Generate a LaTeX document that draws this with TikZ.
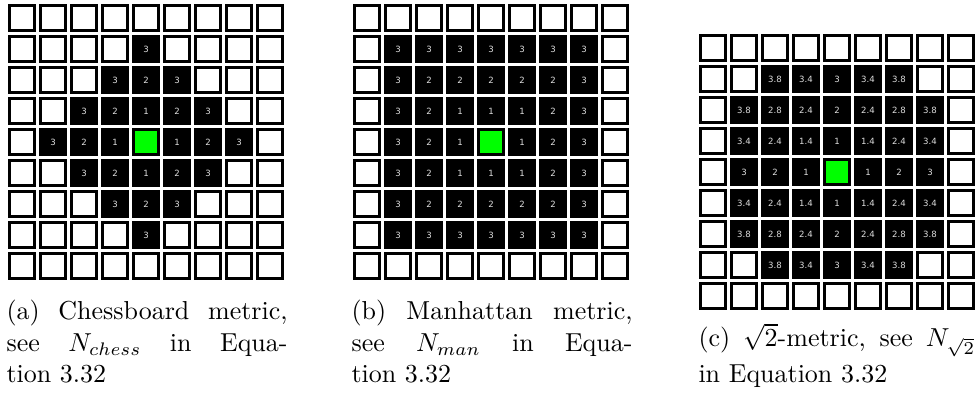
\documentclass[tikz,border=0pt]{standalone}
\usepackage{fontspec}
\newfontfamily\numfont{DejaVu Sans}
\definecolor{cellgreen}{RGB}{0,255,0}
\definecolor{numgray}{RGB}{222,222,222}
\begin{document}
\begin{tikzpicture}[x=0.385pt,y=-0.385pt,
  cell/.style={rectangle, inner sep=0pt, minimum size=9.625pt, line width=1.155pt, draw=black, fill=white},
  hot/.style={cell, fill=black, text=numgray, font=\numfont\fontsize{3.3}{3.7}\selectfont},
  origin/.style={cell, fill=cellgreen},
  captext/.style={anchor=base west, inner sep=0pt, font=\fontsize{10}{12}\selectfont}]
\useasboundingbox (0,0) rectangle (980,394);
\foreach \r in {0,...,8}{
 \foreach \c in {0,...,8}{
   \pgfmathtruncatemacro\dr{abs(\r-4)}
   \pgfmathtruncatemacro\dc{abs(\c-4)}
   \pgfmathtruncatemacro\sm{\dr+\dc}
   \pgfmathtruncatemacro\mx{max(\dr,\dc)}
   \pgfmathtruncatemacro\mn{min(\dr,\dc)}
   \pgfmathtruncatemacro\vt{10*\mx+4*\mn}
   \pgfmathtruncatemacro\ip{\vt/10}
   \pgfmathtruncatemacro\fp{\vt-10*\ip}
   % (a) chessboard
   \ifnum\sm=0 \node[origin] (a-\r-\c) at (22+31*\c, 18+31*\r) {};
   \else\ifnum\sm<4 \node[hot] (a-\r-\c) at (22+31*\c, 18+31*\r) {\sm};
   \else \node[cell] (a-\r-\c) at (22+31*\c, 18+31*\r) {};
   \fi\fi
   % (b) manhattan
   \ifnum\mx=0 \node[origin] (b-\r-\c) at (367+31*\c, 18+31*\r) {};
   \else\ifnum\mx<4 \node[hot] (b-\r-\c) at (367+31*\c, 18+31*\r) {\mx};
   \else \node[cell] (b-\r-\c) at (367+31*\c, 18+31*\r) {};
   \fi\fi
   % (c) sqrt2
   \ifnum\mx=0 \node[origin] (c-\r-\c) at (713+31*\c, 48+31*\r) {};
   \else\ifnum\vt<39
     \ifnum\fp=0 \node[hot] (c-\r-\c) at (713+31*\c, 48+31*\r) {\ip};
     \else \node[hot] (c-\r-\c) at (713+31*\c, 48+31*\r) {\ip.\fp};
     \fi
   \else \node[cell] (c-\r-\c) at (713+31*\c, 48+31*\r) {};
   \fi\fi
 }}
\node[captext] (capa1) at (6,320) {\makebox[108.2pt][s]{(a) Chessboard metric,}};
\node[captext] (capa2) at (6,351.2) {\makebox[108.2pt][s]{see $N_{chess}$ in Equa-}};
\node[captext] (capa3) at (6,382.4) {tion 3.32};
\node[captext] (capb1) at (351,320) {\makebox[108.2pt][s]{(b) Manhattan metric,}};
\node[captext] (capb2) at (351,351.2) {\makebox[108.2pt][s]{see $N_{man}$ in Equa-}};
\node[captext] (capb3) at (351,382.4) {tion 3.32};
\node[captext] (capc1) at (698,347) {\makebox[106.6pt][s]{(c) $\sqrt{2}$-metric, see $N_{\sqrt{2}}$}};
\node[captext] (capc2) at (698,383) {in Equation 3.32};
\end{tikzpicture}
\end{document}
